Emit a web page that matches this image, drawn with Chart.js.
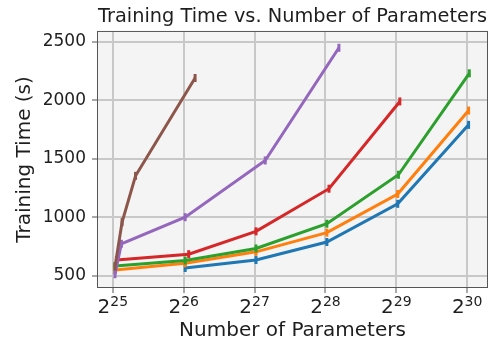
<!DOCTYPE html>
<html>
<head>
<meta charset="utf-8">
<script src="https://cdn.jsdelivr.net/npm/chart.js@4.4.0/dist/chart.umd.min.js"></script>
<style>
  html, body { margin: 0; padding: 0; background: #fff; }
  #wrap { width: 502px; height: 343px; }
</style>
</head>
<body>
<div id="wrap"><canvas id="timeChart"></canvas></div>
<script>
// x = number of parameters (millions), y = training time (s)
const xTicks = [33.554432, 67.108864, 134.217728, 268.435456, 536.870912, 1073.741824];
const xTickBase = '2';
const xTickExp = ['25', '26', '27', '28', '29', '30'];
const yTicks = [500, 1000, 1500, 2000, 2500];

const blueX = [68.05, 136.09, 272.18, 544.37, 1088.73];
const blueY = [568, 636, 790, 1116, 1790];
const orangeX = [34.26, 68.05, 136.09, 272.18, 544.37, 1088.73];
const orangeY = [551, 608, 706, 870, 1200, 1912];
const greenX = [34.26, 68.05, 136.09, 272.18, 548.15, 1096.31];
const greenY = [585, 632, 735, 946, 1364, 2230];
const redX = [34.74, 70.45, 136.09, 277.9, 555.8];
const redY = [637, 686, 881, 1245, 1990];
const purpleX = [34.26, 36.47, 68.05, 148.92, 306.22];
const purpleY = [515, 775, 1002, 1486, 2448];
const brownX = [34.26, 36.72, 41.89, 74.98];
const brownY = [580, 960, 1355, 2190];

const colors = ['#1f77b4', '#ff7f0e', '#2ca02c', '#d62728', '#9467bd', '#8c564b'];
const seriesX = [blueX, orangeX, greenX, redX, purpleX, brownX];
const seriesY = [blueY, orangeY, greenY, redY, purpleY, brownY];

const font = "'DejaVu Sans', sans-serif";
const textColor = '#1e1e1e';

const datasets = seriesY.map((ys, i) => ({
  data: ys.map((y, j) => ({ x: seriesX[i][j], y: y })),
  borderColor: colors[i],
  backgroundColor: colors[i],
  borderWidth: 3,
  pointStyle: 'line',
  rotation: 90,
  pointRadius: 4,
  pointBorderWidth: 3,
  pointHoverRadius: 4,
  order: 5 - i,
  tension: 0
}));

// plot background, frame and 2^n tick labels
const plotDeco = {
  id: 'plotDeco',
  beforeDraw(chart) {
    const { ctx, chartArea: a } = chart;
    ctx.save();
    ctx.fillStyle = '#f4f4f4';
    ctx.fillRect(a.left, a.top, a.right - a.left, a.bottom - a.top);
    ctx.restore();
  },
  afterDraw(chart) {
    const { ctx, chartArea: a } = chart;
    const xs = chart.scales.x;
    ctx.save();
    ctx.strokeStyle = '#555';
    ctx.lineWidth = 1;
    ctx.strokeRect(a.left - 0.5, a.top - 0.5, a.right - a.left + 1, a.bottom - a.top + 1);

    ctx.fillStyle = textColor;
    ctx.textAlign = 'left';
    ctx.textBaseline = 'alphabetic';
    xTicks.forEach((v, i) => {
      const px = xs.getPixelForValue(v);
      ctx.font = '20px ' + font;
      const wb = ctx.measureText(xTickBase).width;
      ctx.font = '14px ' + font;
      const we = ctx.measureText(xTickExp[i]).width;
      const x0 = px - (wb + we) / 2;
      ctx.font = '20px ' + font;
      ctx.fillText(xTickBase, x0, a.bottom + 26);
      ctx.font = '14px ' + font;
      ctx.fillText(xTickExp[i], x0 + wb, a.bottom + 19);
    });
    ctx.restore();
  }
};

new Chart(document.getElementById('timeChart'), {
  type: 'line',
  data: { datasets: datasets },
  plugins: [plotDeco],
  options: {
    responsive: true,
    maintainAspectRatio: false,
    animation: false,
    layout: { padding: { left: 0, right: 15, top: 0, bottom: 0 } },
    plugins: {
      legend: { display: false },
      tooltip: { enabled: false },
      title: {
        display: true,
        fullSize: false,
        text: 'Training Time vs. Number of Parameters',
        color: textColor,
        font: { family: font, size: 19.8, weight: 'normal' },
        padding: { top: 5, bottom: 3.2 }
      }
    },
    scales: {
      x: {
        type: 'logarithmic',
        min: 29.01,
        max: 1303.7,
        afterBuildTicks: s => { s.ticks = xTicks.map(v => ({ value: v })); },
        afterFit: s => { s.height = 56; },
        ticks: { display: false, autoSkip: false, maxRotation: 0 },
        grid: { color: '#c8c8c8', lineWidth: 2, tickLength: 6, tickColor: '#555', tickWidth: 1 },
        border: { display: false },
        title: {
          display: true,
          text: 'Number of Parameters',
          color: textColor,
          font: { family: font, size: 20 },
          padding: { top: 0, bottom: 0 }
        }
      },
      y: {
        type: 'linear',
        min: 406,
        max: 2583,
        afterBuildTicks: s => { s.ticks = yTicks.map(v => ({ value: v })); },
        afterFit: s => { s.width = 98; },
        ticks: {
          padding: 6,
          color: textColor,
          font: { family: font, size: 17 },
          callback: v => String(v)
        },
        grid: { color: '#c8c8c8', lineWidth: 2, tickLength: 6, tickColor: '#555', tickWidth: 1 },
        border: { display: false },
        title: {
          display: true,
          text: 'Training Time (s)',
          color: textColor,
          font: { family: font, size: 20 },
          padding: { top: 13, bottom: 0 }
        }
      }
    }
  }
});
</script>
</body>
</html>
